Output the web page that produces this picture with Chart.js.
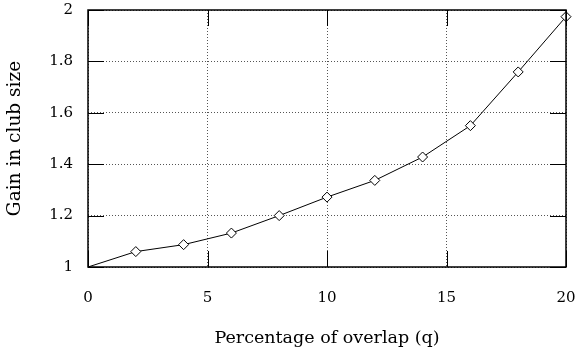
<!DOCTYPE html>
<html>
<head>
<meta charset="utf-8">
<script src="https://cdn.jsdelivr.net/npm/chart.js@4.4.1/dist/chart.umd.min.js"></script>
<style>
  html, body { margin: 0; padding: 0; background: #fff; }
  #wrap { width: 579px; height: 353px; }
</style>
</head>
<body>
<div id="wrap"><canvas id="c"></canvas></div>
<script>
const overlap = [0, 2, 4, 6, 8, 10, 12, 14, 16, 18, 20];
const gain = [1.0, 1.06, 1.087, 1.132, 1.20, 1.272, 1.337, 1.428, 1.55, 1.759, 1.974];
const markerRadius = [0, 5, 5, 5, 5, 5, 5, 5, 5, 5, 5];

const xTitle = "Percentage of overlap (q)";
const yTitle = "Gain in club size";

const FONT = "'DejaVu Serif', 'Liberation Serif', serif";

// frame + inward tick marks on all four sides (gnuplot look)
const framePlugin = {
  id: "frame",
  afterDatasetsDraw(chart) {
    const { ctx, chartArea: a, scales } = chart;
    const len = 16;
    ctx.save();
    ctx.strokeStyle = "#000";
    ctx.lineWidth = 1;
    ctx.beginPath();
    scales.x.ticks.forEach((t, i) => {
      const px = Math.round(scales.x.getPixelForTick(i)) + 0.5;
      ctx.moveTo(px, a.bottom); ctx.lineTo(px, a.bottom - len);
      ctx.moveTo(px, a.top); ctx.lineTo(px, a.top + len);
    });
    scales.y.ticks.forEach((t, i) => {
      const py = Math.round(scales.y.getPixelForTick(i)) + 0.5;
      ctx.moveTo(a.left, py); ctx.lineTo(a.left + len, py);
      ctx.moveTo(a.right, py); ctx.lineTo(a.right - len, py);
    });
    ctx.stroke();
    ctx.lineWidth = 1.5;
    ctx.strokeRect(a.left, a.top, a.right - a.left, a.bottom - a.top);
    ctx.restore();
  }
};

new Chart(document.getElementById("c"), {
  type: "line",
  data: {
    datasets: [{
      data: overlap.map((x, i) => ({ x, y: gain[i] })),
      borderColor: "#000",
      borderWidth: 1,
      pointStyle: "rectRot",
      pointRadius: markerRadius,
      pointBackgroundColor: "#fff",
      pointBorderColor: "#000",
      pointBorderWidth: 1,
      tension: 0,
      clip: false
    }]
  },
  options: {
    responsive: true,
    maintainAspectRatio: false,
    animation: false,
    layout: { padding: { top: 10, right: 13, left: 0, bottom: 0 } },
    plugins: { legend: { display: false }, tooltip: { enabled: false } },
    scales: {
      x: {
        type: "linear",
        min: 0, max: 20,
        ticks: { stepSize: 5, color: "#000", font: { family: FONT, size: 15 }, padding: 22, maxRotation: 0 },
        grid: { color: "#555", drawTicks: false, lineWidth: 1 },
        border: { display: false, dash: [1, 2] },
        title: { display: true, text: xTitle, color: "#000", font: { family: FONT, size: 17.5 }, padding: { top: 20 } },
        afterFit(s) { s.height = 86; s.paddingLeft = 0; s.paddingRight = 0; }
      },
      y: {
        min: 1, max: 2,
        ticks: { stepSize: 0.2, color: "#000", font: { family: FONT, size: 15 }, padding: 15,
          callback: v => (Math.round(v * 10) / 10).toString() },
        grid: { color: "#555", drawTicks: false, lineWidth: 1 },
        border: { display: false, dash: [1, 2] },
        title: { display: true, text: yTitle, color: "#000", font: { family: FONT, size: 18.5 }, padding: { bottom: 3 } },
        afterFit(s) { s.width = 88; s.paddingTop = 0; s.paddingBottom = 0; }
      }
    }
  },
  plugins: [framePlugin]
});
</script>
</body>
</html>
